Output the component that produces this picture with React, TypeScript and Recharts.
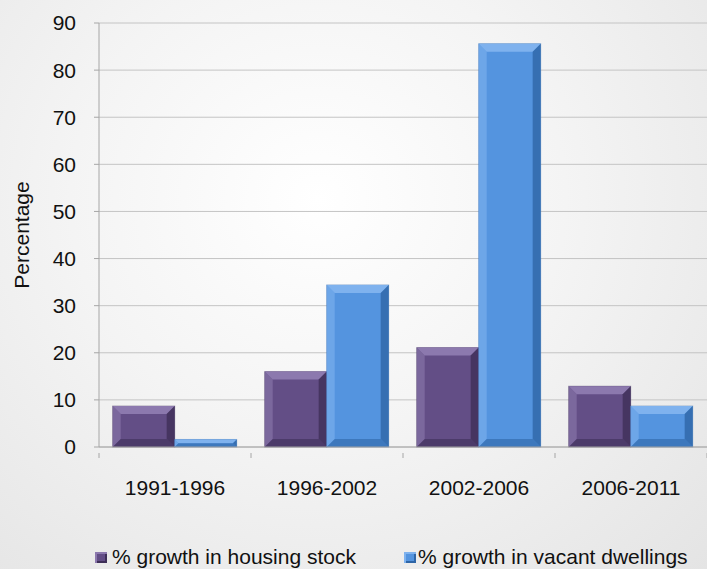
import { Bar, BarChart, CartesianGrid, Legend, XAxis, YAxis } from "recharts";

const CATEGORIES = ["1991-1996", "1996-2002", "2002-2006", "2006-2011"];
const HOUSING_STOCK = [8.7, 16, 21.1, 12.9];
const VACANT_DWELLINGS = [1.6, 34.4, 85.6, 8.7];
const Y_TICKS = [0, 10, 20, 30, 40, 50, 60, 70, 80, 90];

const SERIES = [
  { key: "stock", name: "% growth in housing stock", base: "#634e86", light: "#8c79ae", dark: "#3e2f58" },
  { key: "vacant", name: "% growth in vacant dwellings", base: "#5494df", light: "#7fb2ee", dark: "#2e65a6" },
];

const data = CATEGORIES.map((c, i) => ({
  period: c,
  stock: HOUSING_STOCK[i],
  vacant: VACANT_DWELLINGS[i],
}));

const FONT = "'Liberation Sans', Arial, sans-serif";

const bevelShape = (s: (typeof SERIES)[number]) => (props: any) => {
  const { x, y, width, height } = props;
  if (!height || height <= 0) return null;
  const b = Math.min(8, height / 2, width / 2);
  return (
    <g>
      <rect x={x} y={y} width={width} height={height} fill={s.base} stroke={s.dark} strokeOpacity={0.4} strokeWidth={1} />
      <polygon points={`${x},${y} ${x + width},${y} ${x + width - b},${y + b} ${x + b},${y + b}`} fill={s.light} />
      <polygon points={`${x},${y} ${x + b},${y + b} ${x + b},${y + height - b} ${x},${y + height}`} fill={s.light} opacity={0.6} />
      <polygon points={`${x + width},${y} ${x + width},${y + height} ${x + width - b},${y + height - b} ${x + width - b},${y + b}`} fill={s.dark} opacity={0.8} />
      <polygon points={`${x},${y + height} ${x + width},${y + height} ${x + width - b},${y + height - b} ${x + b},${y + height - b}`} fill={s.dark} opacity={0.6} />
    </g>
  );
};

const CategoryTick = (props: any) => {
  const { x, y, payload, index, visibleTicksCount } = props;
  const half = payload?.offset ?? 0;
  const axisY = y - 27;
  return (
    <g>
      <line x1={x - half} x2={x - half} y1={axisY} y2={axisY + 5} stroke="#a6a6a6" />
      {index === visibleTicksCount - 1 && (
        <line x1={x + half} x2={x + half} y1={axisY} y2={axisY + 5} stroke="#a6a6a6" />
      )}
      <text x={x} y={y} dy="0.71em" textAnchor="middle" fill="#111" fontSize={21} fontFamily={FONT}>
        {payload.value}
      </text>
    </g>
  );
};

const LegendContent = () => (
  <div
    style={{
      display: "flex",
      height: 24,
      alignItems: "center",
      paddingLeft: 95,
      fontFamily: FONT,
      fontSize: 21,
      color: "#111",
      whiteSpace: "nowrap",
    }}
  >
    {SERIES.map((s, i) => (
      <div key={s.key} style={{ display: "flex", alignItems: "center", marginRight: i === 0 ? 48 : 0 }}>
        <span
          style={{
            display: "inline-block",
            width: 12,
            height: 11,
            background: s.base,
            boxShadow: `inset 2px 2px 0 ${s.light}, inset -2px -2px 0 ${s.dark}`,
            marginRight: i === 0 ? 5 : 2,
          }}
        />
        <span>{s.name}</span>
      </div>
    ))}
  </div>
);

export default function App() {
  return (
    <div
      style={{
        position: "absolute",
        left: 0,
        top: 0,
        width: 707,
        height: 569,
        background:
          "radial-gradient(ellipse at 45% 35%, #ffffff 0%, #f4f4f4 45%, #e4e4e4 100%)",
      }}
    >
      <BarChart
        width={707}
        height={569}
        data={data}
        margin={{ top: 23, right: 0, left: 0, bottom: 38 }}
        barCategoryGap="9%"
        barGap={0}
      >
        <CartesianGrid vertical={false} stroke="#c4c4c4" />
        <XAxis
          dataKey="period"
          height={60}
          tickLine={false}
          axisLine={{ stroke: "#a6a6a6" }}
          tickMargin={27}
          tick={<CategoryTick />}
          interval={0}
        />
        <YAxis
          width={99}
          domain={[0, 90]}
          ticks={Y_TICKS}
          interval={0}
          axisLine={{ stroke: "#a6a6a6" }}
          tickLine={{ stroke: "#a6a6a6" }}
          tickSize={5}
          tickMargin={18}
          tick={{ fill: "#111", fontSize: 21, fontFamily: FONT }}
          label={{
            value: "Percentage",
            angle: -90,
            position: "insideLeft",
            offset: 22,
            style: { textAnchor: "middle", fill: "#111", fontSize: 21, fontFamily: FONT },
          }}
        />
        <Legend
          verticalAlign="bottom"
          content={<LegendContent />}
          wrapperStyle={{ left: 0, bottom: 0, width: 707 }}
        />
        {SERIES.map((s) => (
          <Bar key={s.key} dataKey={s.key} name={s.name} fill={s.base} shape={bevelShape(s)} isAnimationActive={false} />
        ))}
      </BarChart>
    </div>
  );
}
